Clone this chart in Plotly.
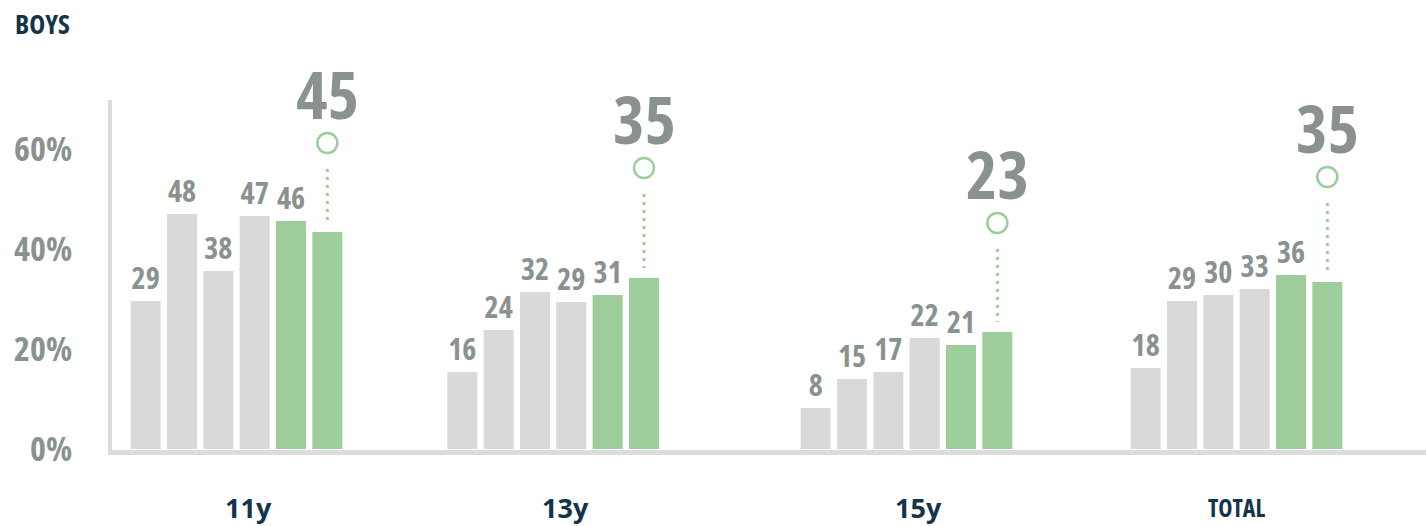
import plotly.graph_objects as go

# age groups shown along the bottom
groups = ["11y", "13y", "15y", "TOTAL"]

# bar heights as drawn (%), one list per survey wave, in group order
wave1 = [29.6, 15.4, 8.2, 16.2]
wave2 = [47.0, 23.8, 14.0, 29.6]
wave3 = [35.6, 31.4, 15.4, 30.8]
wave4 = [46.6, 29.4, 22.2, 32.0]
wave5 = [45.6, 30.8, 20.8, 34.8]
wave6 = [43.4, 34.2, 23.4, 33.4]

# printed labels
lab1 = [29, 16, 8, 18]
lab2 = [48, 24, 15, 29]
lab3 = [38, 32, 17, 30]
lab4 = [47, 29, 22, 33]
lab5 = [46, 31, 21, 36]
lab6 = [45, 35, 23, 35]

# level of the open circle above the latest bar (%)
target = [61.2, 56.2, 45.2, 54.4]

heights = [wave1, wave2, wave3, wave4, wave5, wave6]
labels = [lab1, lab2, lab3, lab4, lab5, lab6]

GRAY = "#d9d9d9"
GREEN = "#9ccd9a"
TXT = "#8a928f"
NAVY = "#13344a"
FONT = "Open Sans, sans-serif"


def narrow(s):
    # Open Sans is variable, so font-stretch gives the condensed cut
    return f"<span style='font-stretch:condensed'>{s}</span>"


group_x = [0.0, 0.95, 2.01, 3.0]
pitch = 0.109
bar_w = 0.09

fig = go.Figure()
for j, h in enumerate(heights):
    xs = [g + (j - 2.5) * pitch for g in group_x]
    last = j == len(heights) - 1
    fig.add_bar(
        x=xs, y=h, width=bar_w,
        marker=dict(color=GREEN if j >= 4 else GRAY, line=dict(width=0)),
        text=None if last else [narrow(v) for v in labels[j]],
        textposition="outside", cliponaxis=False, constraintext="none",
        textfont=dict(family=FONT, size=30, color=TXT, weight="bold"),
        hoverinfo="skip", showlegend=False,
    )

# dotted leader from latest bar up to the circle
xl = [g + 2.5 * pitch for g in group_x]
lx, ly = [], []
for x, h, t in zip(xl, wave6, target):
    lx += [x, x, None]
    ly += [t - 5.2, h + 2.0, None]
fig.add_scatter(x=lx, y=ly, mode="lines",
                line=dict(color=GREEN, width=3, dash="3px,5px"),
                hoverinfo="skip", showlegend=False)
fig.add_scatter(x=xl, y=target, mode="markers",
                marker=dict(size=20, color="white", line=dict(color=GREEN, width=2.5)),
                hoverinfo="skip", showlegend=False, cliponaxis=False)

for x, t, v in zip(xl, target, lab6):
    fig.add_annotation(x=x, y=t, text=narrow(v), showarrow=False, yshift=50,
                       font=dict(family=FONT, size=67, color=TXT, weight="bold"))

for g, name in zip(group_x, groups):
    total = name == "TOTAL"
    fig.add_annotation(
        x=g, y=0, yref="paper", yshift=-57, xshift=0 if total else 12,
        text=narrow(name) if total else name, showarrow=False, yanchor="middle",
        font=dict(family=FONT, size=24 if total else 27, color=NAVY, weight="bold"),
    )

fig.update_layout(
    width=1426, height=526,
    margin=dict(l=112, r=0, t=100, b=76),
    plot_bgcolor="white", paper_bgcolor="white",
    barmode="overlay",
    title=dict(text=narrow("BOYS"), x=15 / 1426, xanchor="left", xref="container",
               y=1 - 25 / 526, yanchor="middle", yref="container",
               font=dict(family=FONT, size=27, color=NAVY, weight="bold")),
    xaxis=dict(range=[-0.3735, 3.5685], showline=True, linecolor="#dcdcdc",
               linewidth=5, showticklabels=False, showgrid=False, zeroline=False,
               fixedrange=True),
    yaxis=dict(range=[-0.2, 69.8], tickvals=[0, 20, 40, 60],
               ticktext=[narrow(t) for t in ["0%", "20%", "40%", "60%"]],
               showgrid=False, zeroline=False, showline=True, linecolor="#dcdcdc",
               linewidth=4, ticklabelstandoff=29,
               tickfont=dict(family=FONT, size=34, color=TXT, weight="bold")),
)

fig.write_html("out.html", config={"displayModeBar": False},
               post_script="document.body.style.margin='0';")
